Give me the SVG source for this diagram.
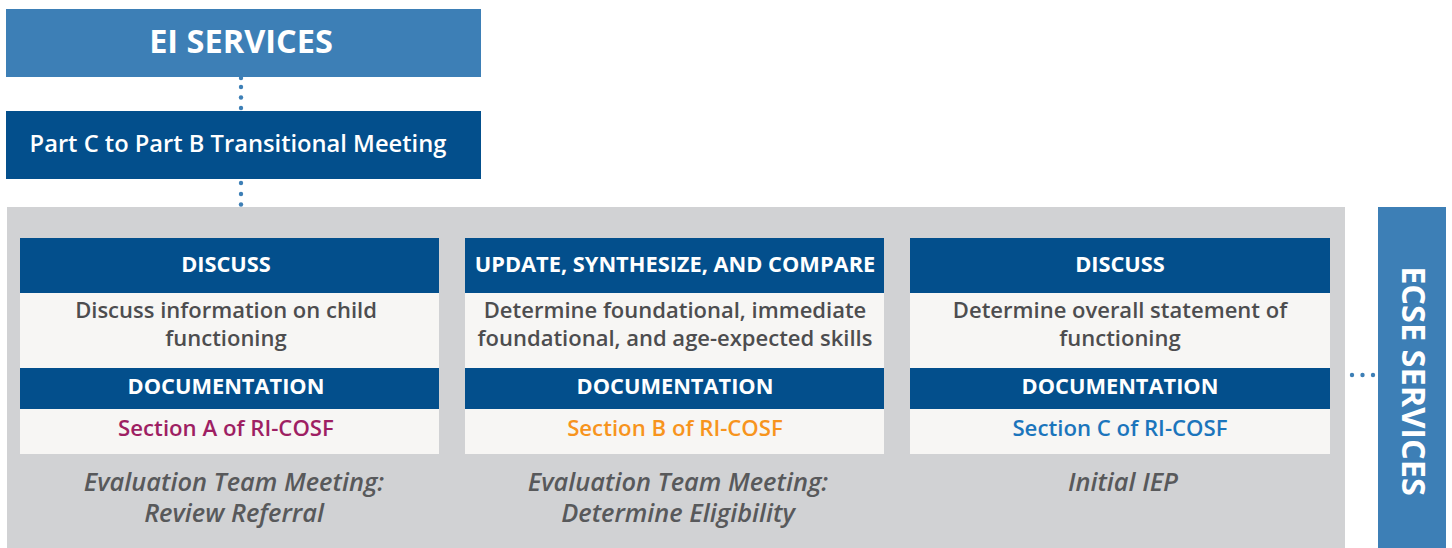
<svg xmlns="http://www.w3.org/2000/svg" width="1452" height="548" viewBox="0 0 1452 548">
  <defs>
    <style>
      .t { font-family: "Open Sans", "Noto Sans", "Liberation Sans", sans-serif; text-anchor: middle; }
      .light { fill: #3d7fb6; }
      .dark { fill: #034f8c; }
      .paper { fill: #f7f6f4; }
      .panel { fill: #d1d2d4; }
      .hd { fill: #ffffff; font-weight: 700; font-size: 21.8px; }
      .body { fill: #4d4d4f; font-weight: 600; font-size: 22px; }
      .sec { font-weight: 600; font-size: 22.2px; }
      .cap { fill: #58595b; font-weight: 600; font-style: italic; font-size: 25.4px; }
      .dot { fill: #3d7fb6; }
    </style>
  </defs>

  <!-- EI services -->
  <g id="ei-services">
    <rect class="light" x="6" y="9" width="475" height="68"/>
    <text class="t" x="241" y="53" fill="#fff" font-weight="700" font-size="32.5">EI SERVICES</text>
  </g>

  <!-- transitional meeting -->
  <g id="transitional-meeting">
    <rect class="dark" x="6" y="111" width="475" height="68"/>
    <text class="t" x="238" y="152" fill="#fff" font-weight="600" font-size="23.7">Part C to Part B Transitional Meeting</text>
  </g>

  <!-- evaluation panel -->
  <g id="evaluation-panel">
    <rect class="panel" x="7" y="207" width="1338" height="341"/>
  </g>

  <!-- stage 1 -->
  <g id="stage-review-referral">
    <rect class="dark" x="20" y="238" width="419" height="55"/>
    <text class="t hd" x="226" y="272">DISCUSS</text>
    <rect class="paper" x="20" y="293" width="419" height="75"/>
    <text class="t body" x="226" y="318">Discuss information on child</text>
    <text class="t body" x="226" y="346">functioning</text>
    <rect class="dark" x="20" y="368" width="419" height="41"/>
    <text class="t hd" x="226" y="394">DOCUMENTATION</text>
    <rect class="paper" x="20" y="409" width="419" height="45"/>
    <text class="t sec" x="226" y="436" fill="#9e1f63">Section A of RI-COSF</text>
    <text class="t cap" x="234" y="491">Evaluation Team Meeting:</text>
    <text class="t cap" x="234" y="522">Review Referral</text>
  </g>

  <!-- stage 2 -->
  <g id="stage-determine-eligibility">
    <rect class="dark" x="465" y="238" width="419" height="55"/>
    <text class="t hd" x="675" y="272">UPDATE, SYNTHESIZE, AND COMPARE</text>
    <rect class="paper" x="465" y="293" width="419" height="75"/>
    <text class="t body" x="675" y="318">Determine foundational, immediate</text>
    <text class="t body" x="675" y="346">foundational, and age-expected skills</text>
    <rect class="dark" x="465" y="368" width="419" height="41"/>
    <text class="t hd" x="675" y="394">DOCUMENTATION</text>
    <rect class="paper" x="465" y="409" width="419" height="45"/>
    <text class="t sec" x="675" y="436" fill="#f7941d">Section B of RI-COSF</text>
    <text class="t cap" x="678" y="491">Evaluation Team Meeting:</text>
    <text class="t cap" x="678" y="522">Determine Eligibility</text>
  </g>

  <!-- stage 3 -->
  <g id="stage-initial-iep">
    <rect class="dark" x="910" y="238" width="420" height="55"/>
    <text class="t hd" x="1120" y="272">DISCUSS</text>
    <rect class="paper" x="910" y="293" width="420" height="75"/>
    <text class="t body" x="1120" y="318">Determine overall statement of</text>
    <text class="t body" x="1120" y="346">functioning</text>
    <rect class="dark" x="910" y="368" width="420" height="41"/>
    <text class="t hd" x="1120" y="394">DOCUMENTATION</text>
    <rect class="paper" x="910" y="409" width="420" height="45"/>
    <text class="t sec" x="1120" y="436" fill="#1b75bc">Section C of RI-COSF</text>
    <text class="t cap" x="1123" y="491">Initial IEP</text>
  </g>

  <!-- ECSE services -->
  <g id="ecse-services">
    <rect class="light" x="1378" y="207" width="68" height="341"/>
    <text class="t" transform="translate(1402 381) rotate(90)" fill="#fff" font-weight="700" font-size="32.5">ECSE SERVICES</text>
  </g>

  <!-- dotted connectors -->
  <g id="connectors">
    <circle class="dot" cx="241" cy="78" r="2.2"/>
    <circle class="dot" cx="241" cy="87" r="2.2"/>
    <circle class="dot" cx="241" cy="97.5" r="2.2"/>
    <circle class="dot" cx="241" cy="108" r="2.2"/>
    <circle class="dot" cx="241" cy="183" r="2.2"/>
    <circle class="dot" cx="241" cy="194" r="2.2"/>
    <circle class="dot" cx="241" cy="204.5" r="2.2"/>
    <circle class="dot" cx="1352" cy="375" r="2.2"/>
    <circle class="dot" cx="1362.5" cy="375" r="2.2"/>
    <circle class="dot" cx="1373" cy="375" r="2.2"/>
  </g>
</svg>
